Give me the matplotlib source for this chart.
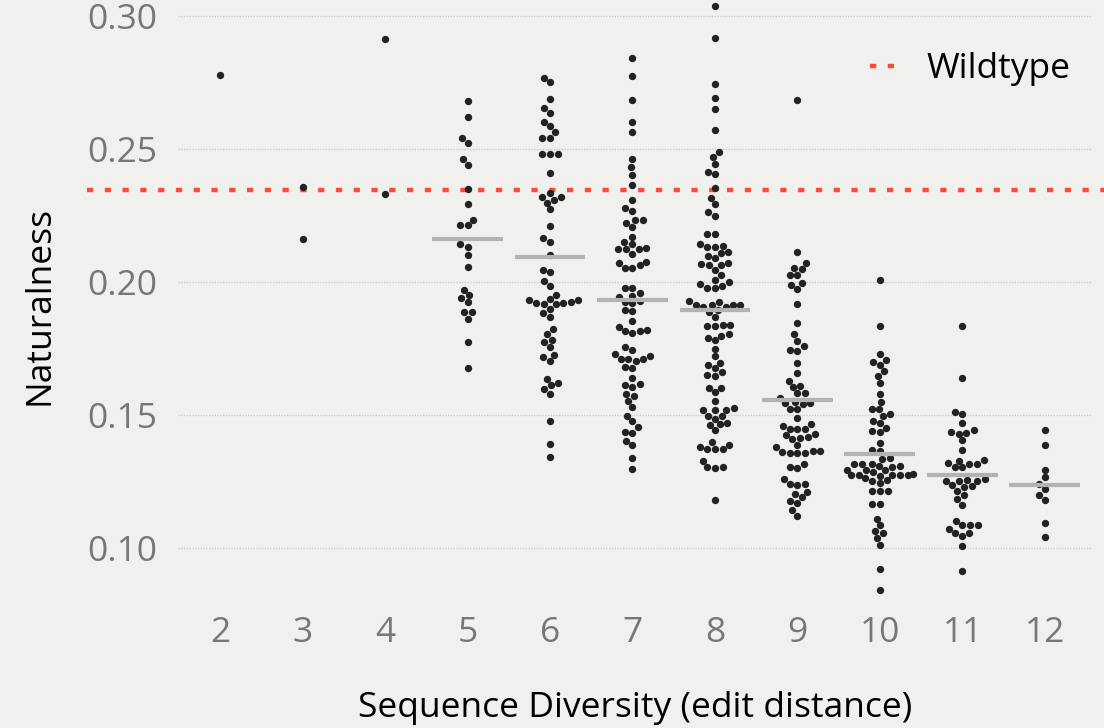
import numpy as np
import pandas as pd
import matplotlib
matplotlib.use("Agg")
import matplotlib.pyplot as plt
import seaborn as sns

# naturalness scores per edit distance
distances = [2, 3, 4, 5, 6, 7, 8, 9, 10, 11, 12]
d2 = [0.2780]
d3 = [0.2358, 0.2163]
d4 = [0.2915, 0.2332]
d5 = [0.2680, 0.2621, 0.2544, 0.2525, 0.2464, 0.2441, 0.2352, 0.2294, 0.2235, 0.2215,
      0.2215, 0.2143, 0.2132, 0.2103, 0.2059, 0.1971, 0.1952, 0.1941, 0.1925, 0.1887,
      0.1887, 0.1862, 0.1776, 0.1677]
d6 = [0.2768, 0.2753, 0.2689, 0.2655, 0.2636, 0.2604, 0.2586, 0.2564, 0.2544, 0.2544,
      0.2481, 0.2481, 0.2482, 0.2410, 0.2335, 0.2322, 0.2322, 0.2311, 0.2299, 0.2274,
      0.2213, 0.2167, 0.2153, 0.2103, 0.2047, 0.2038, 0.2005, 0.1987, 0.1951, 0.1937,
      0.1934, 0.1925, 0.1917, 0.1920, 0.1901, 0.1922, 0.1923, 0.1935, 0.1883, 0.1871,
      0.1823, 0.1806, 0.1784, 0.1776, 0.1757, 0.1728, 0.1719, 0.1705, 0.1636, 0.1621,
      0.1613, 0.1598, 0.1579, 0.1478, 0.1391, 0.1343]
d7 = [0.2843, 0.2774, 0.2685, 0.2604, 0.2564, 0.2465, 0.2432, 0.2405, 0.2365, 0.2311,
      0.2279, 0.2268, 0.2233, 0.2223, 0.2234, 0.2207, 0.2171, 0.2150, 0.2143, 0.2128,
      0.2124, 0.2124, 0.2108, 0.2126, 0.2074, 0.2077, 0.2055, 0.2053, 0.2064, 0.1980,
      0.1980, 0.1959, 0.1950, 0.1946, 0.1931, 0.1927, 0.1921, 0.1896, 0.1891, 0.1853,
      0.1832, 0.1817, 0.1808, 0.1818, 0.1821, 0.1758, 0.1747, 0.1730, 0.1713, 0.1713,
      0.1704, 0.1712, 0.1723, 0.1682, 0.1679, 0.1641, 0.1615, 0.1608, 0.1617, 0.1580,
      0.1571, 0.1554, 0.1531, 0.1498, 0.1477, 0.1455, 0.1436, 0.1435, 0.1403, 0.1389,
      0.1339, 0.1299]
d8 = [0.3038, 0.2917, 0.2747, 0.2693, 0.2650, 0.2571, 0.2489, 0.2472, 0.2445, 0.2416,
      0.2408, 0.2356, 0.2318, 0.2294, 0.2265, 0.2250, 0.2183, 0.2182, 0.2138, 0.2134,
      0.2134, 0.2145, 0.2115, 0.2110, 0.2099, 0.2091, 0.2071, 0.2065, 0.2065, 0.2068,
      0.2047, 0.2026, 0.2009, 0.1992, 0.2000, 0.1987, 0.1980, 0.1980, 0.1930, 0.1927,
      0.1916, 0.1916, 0.1916, 0.1914, 0.1906, 0.1906, 0.1896, 0.1887, 0.1871, 0.1836,
      0.1835, 0.1839, 0.1839, 0.1792, 0.1784, 0.1799, 0.1805, 0.1750, 0.1722, 0.1698,
      0.1689, 0.1677, 0.1662, 0.1652, 0.1649, 0.1604, 0.1604, 0.1588, 0.1554, 0.1521,
      0.1519, 0.1520, 0.1527, 0.1498, 0.1497, 0.1487, 0.1465, 0.1466, 0.1470, 0.1444,
      0.1398, 0.1381, 0.1374, 0.1374, 0.1373, 0.1389, 0.1327, 0.1305, 0.1302, 0.1306,
      0.1180]
d9 = [0.2685, 0.2113, 0.2074, 0.2055, 0.2050, 0.2027, 0.2027, 0.1998, 0.1989, 0.1975,
      0.1917, 0.1848, 0.1805, 0.1780, 0.1759, 0.1747, 0.1742, 0.1695, 0.1659, 0.1629,
      0.1611, 0.1605, 0.1583, 0.1583, 0.1566, 0.1549, 0.1545, 0.1546, 0.1544, 0.1524,
      0.1523, 0.1491, 0.1468, 0.1450, 0.1450, 0.1448, 0.1460, 0.1429, 0.1418, 0.1410,
      0.1415, 0.1425, 0.1389, 0.1381, 0.1367, 0.1367, 0.1362, 0.1359, 0.1359, 0.1359,
      0.1307, 0.1301, 0.1318, 0.1259, 0.1241, 0.1239, 0.1243, 0.1213, 0.1205, 0.1194,
      0.1177, 0.1171, 0.1143, 0.1123]
d10 = [0.2009, 0.1835, 0.1729, 0.1708, 0.1700, 0.1689, 0.1665, 0.1648, 0.1621, 0.1580,
       0.1550, 0.1523, 0.1524, 0.1504, 0.1498, 0.1480, 0.1472, 0.1453, 0.1440, 0.1437,
       0.1397, 0.1371, 0.1365, 0.1341, 0.1337, 0.1317, 0.1317, 0.1316, 0.1306, 0.1311,
       0.1311, 0.1294, 0.1294, 0.1293, 0.1287, 0.1278, 0.1277, 0.1276, 0.1276, 0.1276,
       0.1276, 0.1273, 0.1263, 0.1256, 0.1252, 0.1245, 0.1214, 0.1214, 0.1214, 0.1167,
       0.1165, 0.1111, 0.1086, 0.1066, 0.1059, 0.1040, 0.1014, 0.0921, 0.0842]
d11 = [0.1836, 0.1639, 0.1511, 0.1504, 0.1472, 0.1437, 0.1431, 0.1435, 0.1444, 0.1407,
       0.1371, 0.1329, 0.1317, 0.1317, 0.1306, 0.1304, 0.1322, 0.1332, 0.1256, 0.1238,
       0.1252, 0.1252, 0.1253, 0.1259, 0.1230, 0.1233, 0.1217, 0.1201, 0.1184, 0.1163,
       0.1103, 0.1086, 0.1088, 0.1089, 0.1073, 0.1058, 0.1058, 0.1046, 0.1009, 0.0915]
d12 = [0.1445, 0.1387, 0.1296, 0.1268, 0.1241, 0.1224, 0.1200, 0.1183, 0.1095, 0.1041]

# grey bar levels (group means) as drawn, for distances 5..12
bar_distances = [5, 6, 7, 8, 9, 10, 11, 12]
bar_levels = [0.2163, 0.2096, 0.1933, 0.1896, 0.1557, 0.1356, 0.1276, 0.1238]

wildtype = 0.2347

groups = [d2, d3, d4, d5, d6, d7, d8, d9, d10, d11, d12]
df = pd.DataFrame({
    'dist': np.concatenate([[d] * len(g) for d, g in zip(distances, groups)]).astype(str),
    'nat': np.concatenate(groups),
})
order = [str(d) for d in distances]

bg = '#f0f0ef'
fs = 25.5
plt.rcParams['font.family'] = ['Open Sans', 'DejaVu Sans']

fig = plt.figure(figsize=(11.04, 7.28), dpi=100, facecolor=bg)
ax = fig.add_axes([0.1612, 0.1621, 0.8279, 0.8379])
ax.set_facecolor(bg)

sns.swarmplot(data=df, x='dist', y='nat', order=order, color='#222222', size=5.3,
              ax=ax, zorder=3)

pos = [order.index(str(d)) for d in bar_distances]
ax.hlines(bar_levels, np.array(pos) - 0.43, np.array(pos) + 0.43, color='#b3b3b3',
          lw=3, zorder=4)

ax.axhline(wildtype, xmin=-0.1, xmax=1.02, color='#ff4b33', lw=3.2,
           ls=(0, (1.4, 2.6)), clip_on=False, zorder=2, label='Wildtype')

ax.set_xlim(-0.51, 10.57)
ax.set_ylim(0.0768, 0.3061)
ax.set_yticks([0.10, 0.15, 0.20, 0.25, 0.30])
ax.set_yticklabels(['0.10', '0.15', '0.20', '0.25', '0.30'])
ax.grid(axis='y', color='#cccccc', ls=(0, (1, 1)), lw=1)
ax.grid(axis='x', visible=False)
ax.set_axisbelow(True)
for s in ax.spines.values():
    s.set_visible(False)
ax.tick_params(length=0, labelsize=fs, colors='#777777')
ax.tick_params(axis='y', pad=15)
ax.tick_params(axis='x', pad=4)

ax.set_xlabel('Sequence Diversity (edit distance)', fontsize=fs, color='black',
              labelpad=30)
ax.set_ylabel('Naturalness', fontsize=fs, color='black', labelpad=22)

leg = ax.legend(loc='upper right', bbox_to_anchor=(0.97, 0.928),
                bbox_transform=fig.transFigure, frameon=False, fontsize=fs,
                handlelength=0.75, handletextpad=0.85, borderpad=0, borderaxespad=0)

fig.savefig('out.png', dpi=100, facecolor=bg)
